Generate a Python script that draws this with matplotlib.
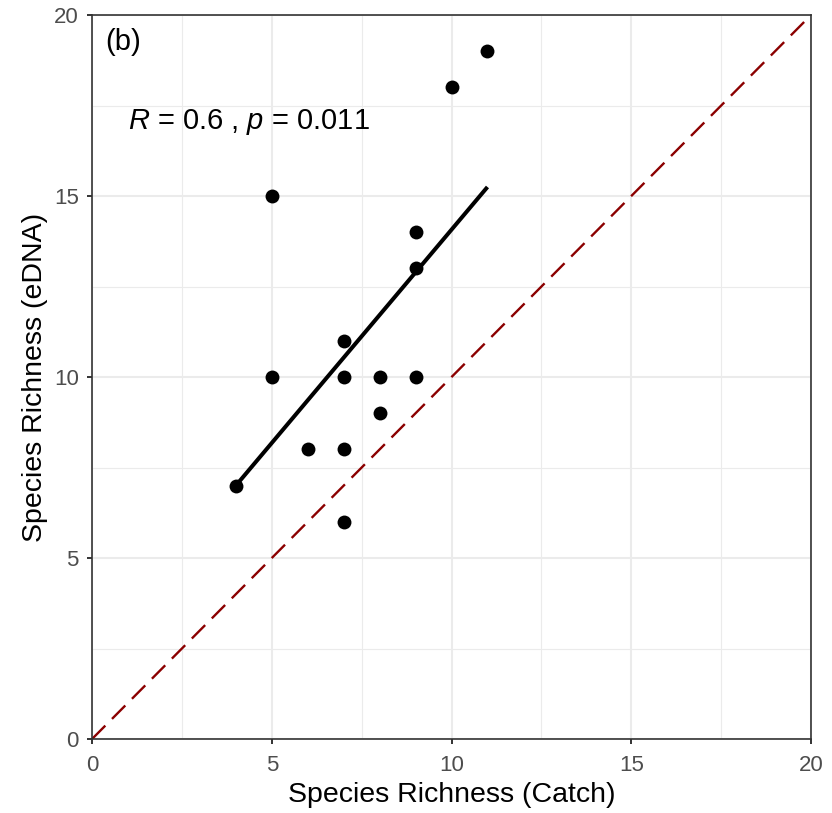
import matplotlib
matplotlib.use('Agg')
import matplotlib.pyplot as plt
from matplotlib.ticker import MultipleLocator

plt.rcParams['font.family'] = ['Liberation Sans', 'DejaVu Sans']
plt.rcParams['mathtext.fontset'] = 'custom'
plt.rcParams['mathtext.it'] = 'Liberation Sans:italic'
plt.rcParams['mathtext.rm'] = 'Liberation Sans'

# species richness per site
catch = [4, 5, 5, 6, 7, 7, 7, 7, 8, 8, 9, 9, 9, 10, 11]
edna = [7, 15, 10, 8, 11, 10, 8, 6, 10, 9, 14, 13, 10, 18, 19]

# linear fit as drawn
fit_x = [4, 11]
fit_y = [7.0, 15.25]

one_to_one = [0, 20]
stat_label = '$\\it{R}$ = 0.6 , $\\it{p}$ = 0.011'

fig = plt.figure(figsize=(8.32, 8.13), dpi=100)
ax = fig.add_axes([0.1106, 0.0910, 0.8642, 0.8905])

ax.set_xlim(0, 20)
ax.set_ylim(0, 20)
ax.xaxis.set_major_locator(MultipleLocator(5))
ax.yaxis.set_major_locator(MultipleLocator(5))
ax.xaxis.set_minor_locator(MultipleLocator(2.5))
ax.yaxis.set_minor_locator(MultipleLocator(2.5))
ax.grid(which='major', color='#EBEBEB', lw=1.5, zorder=0)
ax.grid(which='minor', color='#EBEBEB', lw=0.8, zorder=0)
ax.set_axisbelow(True)

ax.plot(one_to_one, one_to_one, color='darkred', lw=1.7, ls=(0, (8, 4)), zorder=2)
ax.plot(fit_x, fit_y, color='black', lw=2.9, solid_capstyle='butt', zorder=3)
ax.scatter(catch, edna, s=100, color='black', zorder=4, linewidths=0)

ax.text(0.36, 19.25, '(b)', fontsize=21, va='center', ha='left')
ax.text(1.0, 17.05, stat_label, fontsize=21, va='center', ha='left')

for s in ax.spines.values():
    s.set_color('#333333')
    s.set_linewidth(1.2)
ax.tick_params(which='major', length=3.6, width=1.4, color='#333333',
               labelsize=16, labelcolor='#4D4D4D')
ax.tick_params(axis='x', pad=8)
ax.tick_params(axis='y', pad=6)
ax.tick_params(which='minor', length=0)

ax.set_xlabel('Species Richness (Catch)', fontsize=20.5, labelpad=4)
ax.set_ylabel('Species Richness (eDNA)', fontsize=20.5, labelpad=4)

fig.savefig('out.png', dpi=100)
